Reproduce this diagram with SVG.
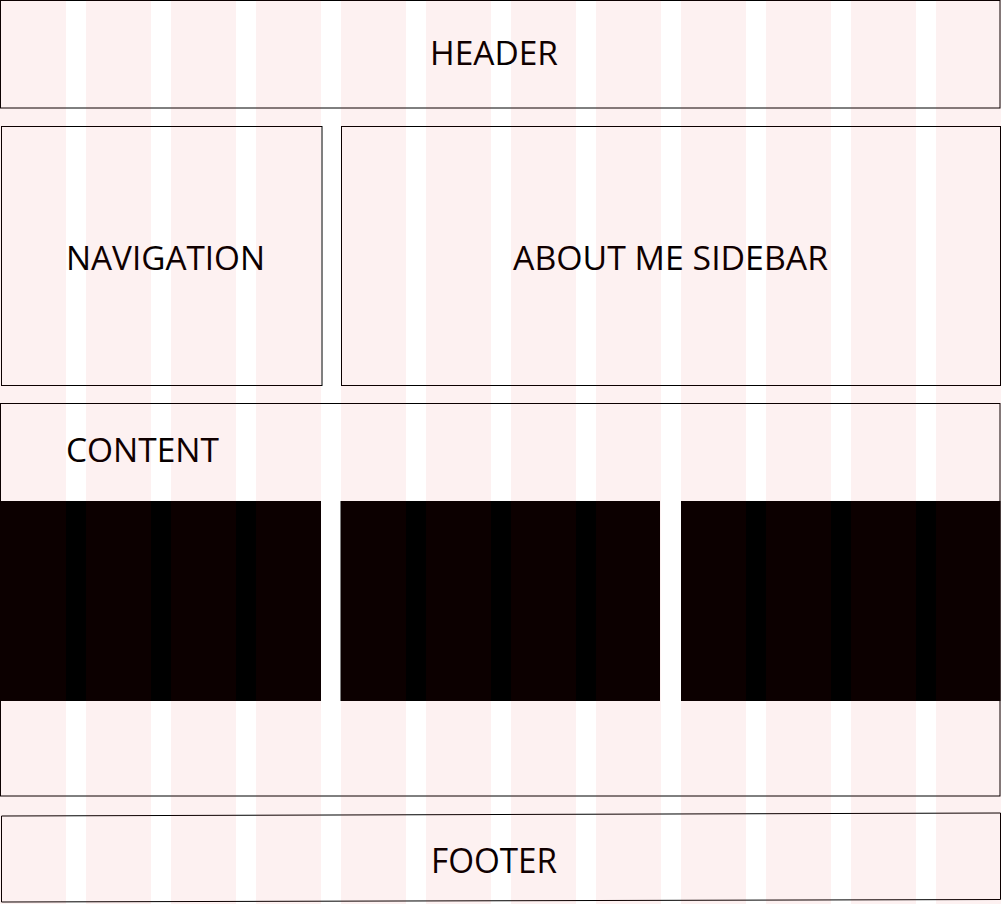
<svg xmlns="http://www.w3.org/2000/svg" width="1003" height="904" viewBox="0 0 1003 904">
<defs>
<style>
.box{fill:none;stroke:#000;stroke-width:1}
.blk{fill:#000}
.lbl{font-family:"Open Sans","Liberation Sans",sans-serif;font-size:32px;fill:#050000}
.col{fill:rgb(220,0,0);fill-opacity:0.055}
</style>
</defs>
<rect x="0" y="0" width="1003" height="904" fill="#fff"/>
<g id="header">
<rect class="box" x="0.5" y="0.5" width="999.5" height="107.5"/>
<text class="lbl" x="430" y="65" textLength="128" lengthAdjust="spacingAndGlyphs">HEADER</text>
</g>
<g id="navigation">
<rect class="box" x="1.5" y="126.5" width="320.5" height="259"/>
<text class="lbl" x="66" y="270" textLength="199" lengthAdjust="spacingAndGlyphs">NAVIGATION</text>
</g>
<g id="about-me-sidebar">
<rect class="box" x="341.5" y="126.5" width="659" height="259"/>
<text class="lbl" x="513" y="270" textLength="315" lengthAdjust="spacingAndGlyphs">ABOUT ME SIDEBAR</text>
</g>
<g id="content">
<rect class="box" x="0.5" y="403.5" width="999.5" height="392.5"/>
<text class="lbl" x="66" y="462" textLength="153" lengthAdjust="spacingAndGlyphs">CONTENT</text>
<rect class="blk" x="0" y="501" width="321" height="200"/>
<rect class="blk" x="340.5" y="501" width="319.5" height="200"/>
<rect class="blk" x="681" y="501" width="319.5" height="200"/>
</g>
<g id="footer">
<polygon class="box" points="1.5,816 1000.5,813 1000.5,899.5 1.5,902"/>
<text class="lbl" x="431" y="873" textLength="126" lengthAdjust="spacingAndGlyphs" style="font-size:34px">FOOTER</text>
</g>
<g id="grid">
<rect class="col" x="0" y="0" width="66" height="904"/>
<rect class="col" x="86" y="0" width="65" height="904"/>
<rect class="col" x="171" y="0" width="65" height="904"/>
<rect class="col" x="256" y="0" width="65" height="904"/>
<rect class="col" x="341" y="0" width="65" height="904"/>
<rect class="col" x="426" y="0" width="65" height="904"/>
<rect class="col" x="511" y="0" width="65" height="904"/>
<rect class="col" x="596" y="0" width="65" height="904"/>
<rect class="col" x="681" y="0" width="65" height="904"/>
<rect class="col" x="766" y="0" width="65" height="904"/>
<rect class="col" x="851" y="0" width="65" height="904"/>
<rect class="col" x="936" y="0" width="65" height="904"/>
</g>
</svg>
